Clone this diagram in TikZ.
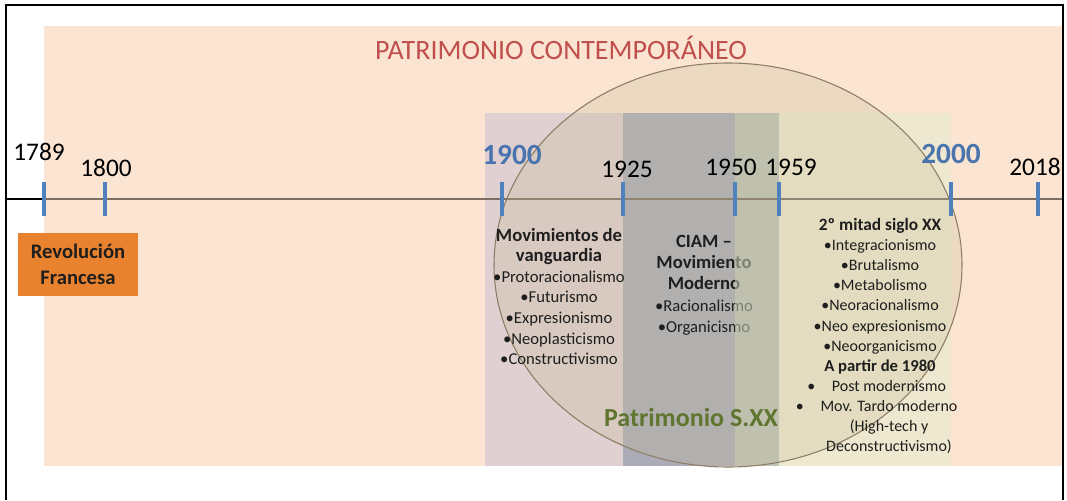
\documentclass[tikz,border=0pt]{standalone}
\usepackage{fontspec}
\setmainfont{Carlito}
\definecolor{tickblue}{RGB}{79,129,189}
\definecolor{yearblue}{RGB}{74,116,174}
\definecolor{titlered}{RGB}{192,80,77}
\definecolor{peach}{RGB}{252,228,210}
\definecolor{bandlila}{RGB}{224,208,210}
\definecolor{bandgris}{RGB}{172,172,184}
\definecolor{bandverde}{RGB}{190,195,184}
\definecolor{verdetinte}{RGB}{192,193,175}
\definecolor{bandcrema}{RGB}{239,232,208}
\definecolor{circfill}{RGB}{196,189,151}
\definecolor{circline}{RGB}{140,125,100}
\definecolor{revorange}{RGB}{232,130,47}
\definecolor{sxxgreen}{RGB}{95,117,48}
\definecolor{axisbrown}{RGB}{125,110,100}
\definecolor{inkgray}{RGB}{30,30,30}

\begin{document}
\begin{tikzpicture}[x=0.75pt,y=-0.75pt,line cap=butt,line join=miter,
    yrlabel/.style={anchor=base,inner sep=0pt,font=\fontsize{19pt}{22pt}\selectfont},
    yrbold/.style={anchor=base,inner sep=0pt,text=yearblue,font=\fontsize{22pt}{26pt}\selectfont\bfseries},
    yrtick/.style={tickblue,line width=3.4pt},
    lista/.style={anchor=north,inner sep=0pt,align=center,text=inkgray}]
  \path[use as bounding box] (0,0) rectangle (1067,500);   % 源画布 1067x500 px，y 向下
  % ---- 底色 ----
  \fill[white] (0,0) rectangle (1067,500);
  \draw[line width=1.5pt] (6,199) -- (44,199);              % 轴线左段（米色区外为黑）
  \fill[peach] (44,26) rectangle (1063,466);                % px x[44,1063] y[26,466]
  % ---- 时期色带（顶 y=113，底 y=466） ----
  \fill[bandlila]  (485,113) rectangle (623,466);           % 1900--1925
  \fill[bandgris]  (623,113) rectangle (735,466);           % 1925--1950
  \fill[bandverde] (735,113) rectangle (779,466);           % 1950--1959
  \fill[bandcrema] (779,113) rectangle (951,466);           % 1959--2000
  \draw[axisbrown,line width=1.5pt] (44,199) -- (1063,199); % 时间轴 y=199px
  % ---- 椭圆 Patrimonio S.XX：中心 px(728,265)，半轴 234x202 ----
  \draw[circline,line width=0.8pt,fill=circfill,fill opacity=0.28]
    (728,265) ellipse [x radius=234,y radius=202];
  % CIAM 文字在 1950--1959 色带之下（源图 "to" 被色带盖淡）
  \node[lista,font=\fontsize{12.5pt}{15.9pt}\selectfont] (ciam) at (704,235)
    {{\fontsize{14pt}{15.9pt}\selectfont\bfseries CIAM –}\\
     {\fontsize{14pt}{15.9pt}\selectfont\bfseries Movimiento}\\
     {\fontsize{14pt}{15.9pt}\selectfont\bfseries Moderno}\\
     •Racionalismo\\•Organicismo};
  \fill[verdetinte,opacity=0.6] (735,215) rectangle (779,340); % 色带＋椭圆混色
  % ---- 刻度（蓝，y 182..216） ----
  \draw[yrtick] (44,182) -- (44,216);     % 1789
  \draw[yrtick] (105,182) -- (105,216);   % 1800
  \draw[yrtick] (502,182) -- (502,216);   % 1900
  \draw[yrtick] (623,182) -- (623,216);   % 1925
  \draw[yrtick] (735,182) -- (735,216);   % 1950
  \draw[yrtick] (779,182) -- (779,216);   % 1959
  \draw[yrtick] (951,182) -- (951,216);   % 2000
  \draw[yrtick] (1038,182) -- (1038,216); % 2018
  % ---- 年份（锚点＝基线中点） ----
  \node[yrlabel] (y1789) at (39,160)   {1789};
  \node[yrlabel] (y1800) at (106,176)  {1800};
  \node[yrbold]  (y1900) at (512,164)  {1900};
  \node[yrlabel] (y1925) at (627,177)  {1925};
  \node[yrlabel] (y1950) at (731,175)  {1950};
  \node[yrlabel] (y1959) at (791,175)  {1959};
  \node[yrbold]  (y2000) at (951,163)  {2000};
  \node[yrlabel] (y2018) at (1035,175) {2018};
  % ---- 标题 ----
  \node[anchor=base,inner sep=0pt,text=titlered,font=\fontsize{21pt}{25pt}\selectfont]
    (titulo) at (561,59) {PATRIMONIO CONTEMPORÁNEO};
  \node[anchor=base,inner sep=0pt,text=sxxgreen,font=\fontsize{19.5pt}{23pt}\selectfont\bfseries]
    (sxx) at (691,426) {Patrimonio S.XX};
  % ---- Revolución Francesa 橙框 px x[18,138] y[233,296] ----
  \node[fill=revorange,minimum width=90pt,minimum height=47.25pt,inner sep=0pt,align=center,
        text=inkgray,font=\fontsize{15.5pt}{19.5pt}\selectfont\bfseries]
    (revol) at (78,264.5) {Revolución\\Francesa};
  % ---- 文字块 ----
  \node[lista,font=\fontsize{12.5pt}{15.4pt}\selectfont] (vang) at (559,228)
    {{\fontsize{14pt}{15.4pt}\selectfont\bfseries Movimientos de}\\
     {\fontsize{14pt}{15.4pt}\selectfont\bfseries vanguardia}\\
     •Protoracionalismo\\•Futurismo\\•Expresionismo\\•Neoplasticismo\\•Constructivismo};
  \node[lista,font=\fontsize{12pt}{15.1pt}\selectfont] (mitad) at (880,218)
    {{\fontsize{13pt}{15.1pt}\selectfont\bfseries 2º mitad siglo XX}\\
     •Integracionismo\\•Brutalismo\\•Metabolismo\\•Neoracionalismo\\
     •Neo expresionismo\\•Neoorganicismo\\
     {\fontsize{12.5pt}{15.1pt}\selectfont\bfseries A partir de 1980}\\
     \hspace*{13.5pt}\llap{•\hspace{12.5pt}}Post modernismo\\
     \hspace*{13.5pt}\llap{•\hspace{12.5pt}}Mov. Tardo moderno\\
     \hspace*{13.5pt}(High-tech y\\
     \hspace*{13.5pt}Deconstructivismo)};
  % ---- 外框（底边不可见） ----
  \draw[line width=1.5pt] (6,500) -- (6,5) -- (1063,5) -- (1063,500);
\end{tikzpicture}
\end{document}
